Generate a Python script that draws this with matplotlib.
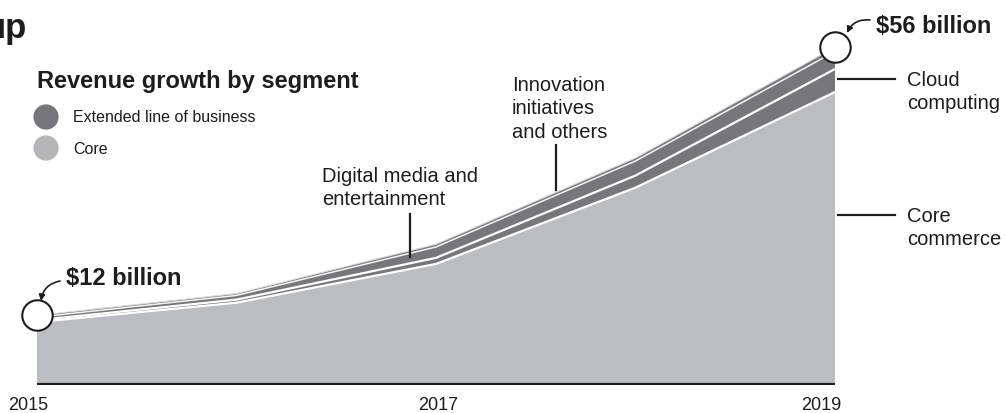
import matplotlib
matplotlib.use("Agg")
import matplotlib.pyplot as plt
from matplotlib.transforms import ScaledTranslation
import numpy as np

plt.rcParams['font.family'] = ['Liberation Sans', 'DejaVu Sans']

# ---- data (US$ billion) ----
years = [2015, 2016, 2017, 2018, 2019]
core_commerce = [10.4, 13.6, 20.0, 32.6, 48.4]
cloud_computing = [0.3, 0.5, 1.0, 2.0, 3.8]
digital_media = [0.5, 0.7, 1.8, 2.4, 2.9]
innovation = [0.3, 0.3, 0.45, 0.5, 0.7]
tick_years = [2015, 2017, 2019]
tick_labels = ["2015", "2017", "2019"]
start_label = "$12 billion"
end_label = "$56 billion"

W, H = 1006, 413
TXT = '#1e1c1d'
CORE = '#bcbdc0'
DARK = '#77777b'
LEG_CORE = '#b6b6b8'

fig = plt.figure(figsize=(W / 100, H / 100), dpi=100)
ax = fig.add_axes([37 / W, 28 / H, 798 / W, 339 / H])

layers = [core_commerce, cloud_computing, digital_media, innovation]
ax.stackplot(years, *layers, colors=[CORE, DARK, DARK, DARK], linewidth=0)
cum = np.cumsum(np.array(layers), axis=0)
for i in range(2):
    ax.plot(years, cum[i], color='white', lw=1.6, solid_capstyle='butt')
ax.plot(years, cum[2], color='#f4f4f4', lw=1.1, solid_capstyle='butt')
ax.plot(years, cum[3], color='#d8d8d8', lw=0.8)

ax.set_xlim(2015, 2019)
ax.set_ylim(0, 56)
ax.axhline(0, color=TXT, lw=3, zorder=5)
for s in ax.spines.values():
    s.set_visible(False)
ax.set_yticks([])
ax.set_xticks(tick_years)
ax.set_xticklabels(tick_labels, fontsize=13, color=TXT)
ax.tick_params(axis='x', length=0, pad=9)
offs = [-9, 2, -14]
for lab, o in zip(ax.get_xticklabels(), offs):
    lab.set_transform(lab.get_transform() + ScaledTranslation(o / 100, 0, fig.dpi_scale_trans))

# endpoint circles
ax.scatter([years[0], years[-1]], [cum[3][0], cum[3][-1]], s=480, facecolor='white',
           edgecolor=TXT, linewidth=1.5, zorder=6, clip_on=False)


def fp(x, y):
    return (x / W, 1 - y / H)

# overlay axes in pixel coordinates (y downward) for annotations
lax = fig.add_axes([0, 0, 1, 1], facecolor='none')
lax.set_xlim(0, W)
lax.set_ylim(H, 0)
lax.axis('off')

# title pieces
fig.text(*fp(27, 38), "up", fontsize=25, fontweight='bold', color=TXT, ha='right', va='baseline')
fig.text(*fp(37, 88), "Revenue growth by segment", fontsize=17, fontweight='bold', color=TXT,
         ha='left', va='baseline')

# legend
lax.scatter([46, 46], [117, 148], s=330, color=[DARK, LEG_CORE], linewidth=0)
for (cy, lab) in [(117, "Extended line of business"), (148, "Core")]:
    fig.text(*fp(73, cy + 1), lab, fontsize=11.5, color=TXT, ha='left', va='center')

# value labels
fig.text(*fp(66, 285), start_label, fontsize=17, fontweight='bold', color=TXT, va='baseline')
fig.text(*fp(876, 33), end_label, fontsize=17, fontweight='bold', color=TXT, va='baseline')
lax.annotate('', xy=(41, 301), xytext=(60, 281),
             arrowprops=dict(arrowstyle='-|>', connectionstyle='arc3,rad=0.35', lw=1.2,
                             color=TXT, mutation_scale=9, shrinkA=0, shrinkB=0))
lax.annotate('', xy=(847, 33), xytext=(870, 20),
             arrowprops=dict(arrowstyle='-|>', connectionstyle='arc3,rad=0.35', lw=1.2,
                             color=TXT, mutation_scale=9, shrinkA=0, shrinkB=0))

# segment labels
ls = 1.3
fig.text(*fp(322, 188), "Digital media and\nentertainment", fontsize=14.5, color=TXT,
         ha='left', va='center', linespacing=ls)
lax.plot([410, 410], [214, 257], color=TXT, lw=1.6)
fig.text(*fp(512, 109), "Innovation\ninitiatives\nand others", fontsize=14.5, color=TXT,
         ha='left', va='center', linespacing=ls)
lax.plot([556, 556], [145, 190], color=TXT, lw=1.6)
fig.text(*fp(907, 92), "Cloud\ncomputing", fontsize=14.5, color=TXT,
         ha='left', va='center', linespacing=ls)
lax.plot([838, 895], [79, 79], color=TXT, lw=1.6)
fig.text(*fp(907, 228), "Core\ncommerce", fontsize=14.5, color=TXT,
         ha='left', va='center', linespacing=ls)
lax.plot([838, 895], [215, 215], color=TXT, lw=1.6)

fig.savefig("out.png", dpi=100)
